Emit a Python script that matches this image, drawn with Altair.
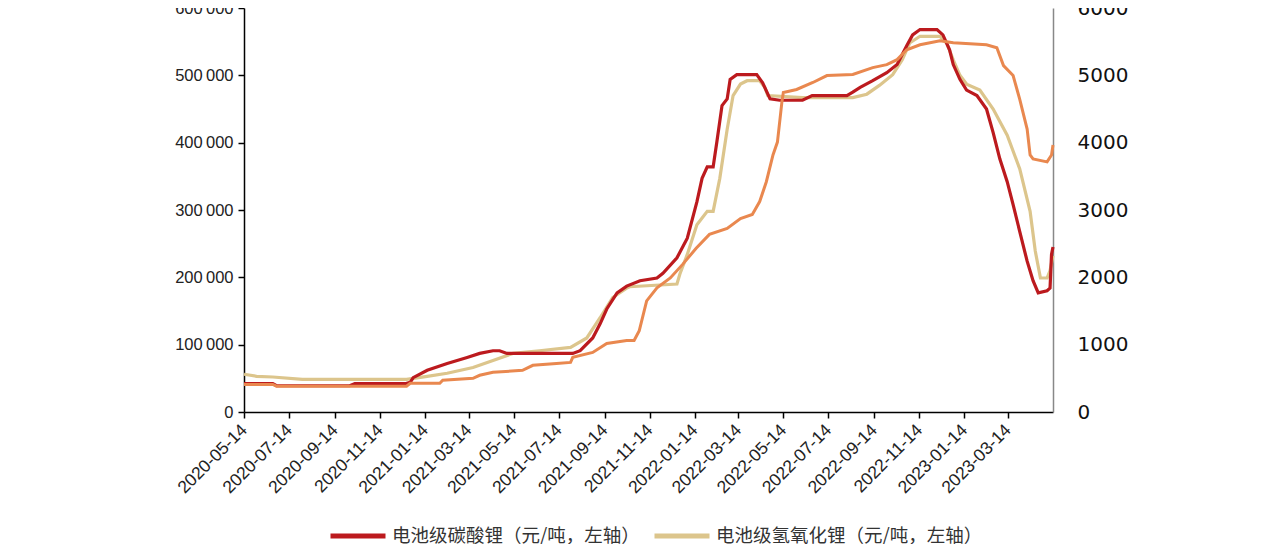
import altair as alt
import pandas as pd

RED_NAME = "电池级碳酸锂（元/吨，左轴）"
TAN_NAME = "电池级氢氧化锂（元/吨，左轴）"
ORG_NAME = "右轴系列"

red_dates = ["2020-05-14","2020-06-22","2020-06-27","2020-10-04","2020-10-11","2020-12-18","2020-12-25","2020-12-29",
             "2021-01-17","2021-02-13","2021-03-12","2021-03-29","2021-04-16","2021-04-25","2021-05-05","2021-08-02",
             "2021-08-12","2021-08-29","2021-09-08","2021-09-17","2021-10-01","2021-10-14","2021-11-01","2021-11-24",
             "2021-12-02","2021-12-21","2022-01-04","2022-01-17","2022-01-24","2022-01-31","2022-02-08","2022-02-13",
             "2022-02-20","2022-02-27","2022-03-03","2022-03-12","2022-04-08","2022-04-16","2022-04-26","2022-05-09",
             "2022-06-09","2022-06-22","2022-08-08","2022-08-16","2022-08-26","2022-09-12","2022-10-01","2022-10-15",
             "2022-10-28","2022-11-05","2022-11-15","2022-12-08","2022-12-16","2022-12-25","2022-12-30","2023-01-08",
             "2023-01-17","2023-01-31","2023-02-13","2023-02-22","2023-03-03","2023-03-13","2023-03-21","2023-03-30",
             "2023-04-09","2023-04-17","2023-04-24","2023-05-06","2023-05-10","2023-05-12","2023-05-14"]
red_vals = [42000,42000,39000,39000,42000,42000,44000,51000,62000,72000,81000,87000,91000,91000,87000,87000,
            91000,110000,131000,153000,177000,187000,195000,199000,206000,229000,258000,312000,347000,364000,
            364000,401000,455000,465000,494000,501000,501000,489000,465000,463000,463000,470000,470000,475000,
            482000,492000,504000,516000,544000,560000,568000,568000,560000,538000,516000,494000,478000,470000,
            450000,415000,376000,342000,308000,268000,224000,195000,177000,180000,184000,234000,245000]

tan_dates = ["2020-05-14","2020-05-31","2020-06-22","2020-08-01","2020-12-20","2021-01-17","2021-02-13","2021-03-20",
             "2021-04-16","2021-05-13","2021-06-18","2021-07-30","2021-08-21","2021-09-08","2021-09-25","2021-10-14",
             "2021-10-18","2021-12-21","2021-12-25","2022-01-04","2022-01-17","2022-01-31","2022-02-08","2022-02-17",
             "2022-02-27","2022-03-07","2022-03-17","2022-03-26","2022-04-12","2022-04-19","2022-04-23","2022-06-09",
             "2022-08-16","2022-09-04","2022-09-21","2022-10-09","2022-10-22","2022-11-01","2022-11-15","2022-12-12",
             "2022-12-21","2022-12-30","2023-01-08","2023-01-17","2023-02-04","2023-02-22","2023-03-13","2023-03-30",
             "2023-04-13","2023-04-20","2023-04-27","2023-05-06","2023-05-10","2023-05-14"]
tan_vals = [56000,53000,52000,48600,48600,53000,57500,66000,76600,87000,91000,96000,110000,140000,170000,184000,
            186000,190000,205000,234000,278000,298000,298000,347000,420000,470000,487000,492000,492000,482000,
            470000,467000,467000,472000,485000,501000,523000,548000,558000,558000,548000,523000,500000,487000,
            478000,450000,411000,361000,298000,239000,199000,199000,210000,232000]

org_dates = ["2020-05-14","2020-06-22","2020-06-27","2020-12-20","2020-12-25","2021-02-03","2021-02-07","2021-03-20",
             "2021-03-29","2021-04-16","2021-05-26","2021-06-09","2021-07-11","2021-07-30","2021-08-02","2021-08-29",
             "2021-09-17","2021-10-14","2021-10-24","2021-10-31","2021-11-10","2021-11-24","2021-12-12","2021-12-29",
             "2022-01-16","2022-02-03","2022-02-27","2022-03-17","2022-04-02","2022-04-12","2022-04-21","2022-04-30",
             "2022-05-06","2022-05-12","2022-05-14","2022-06-01","2022-06-23","2022-07-12","2022-08-16","2022-09-12",
             "2022-10-01","2022-10-15","2022-10-28","2022-11-15","2022-12-12","2022-12-30","2023-02-13","2023-02-27",
             "2023-03-08","2023-03-21","2023-03-30","2023-04-09","2023-04-13","2023-04-17","2023-05-06","2023-05-12",
             "2023-05-14"]
org_vals = [410,410,383,383,427,427,472,501,545,590,619,693,722,737,811,884,1017,1061,1061,1209,1651,1843,1990,
            2196,2432,2638,2727,2874,2933,3125,3420,3817,4009,4599,4746,4790,4894,4997,5012,5115,5159,5233,5380,
            5454,5513,5483,5454,5410,5144,4997,4643,4201,3817,3758,3714,3817,3965]

x_ticks = ["2020-05-14","2020-07-14","2020-09-14","2020-11-14","2021-01-14","2021-03-14","2021-05-14","2021-07-14",
           "2021-09-14","2021-11-14","2022-01-14","2022-03-14","2022-05-14","2022-07-14","2022-09-14","2022-11-14",
           "2023-01-14","2023-03-14"]
x_start = "2020-05-14"
x_end = "2023-05-14"
left_ticks = [0, 100000, 200000, 300000, 400000, 500000, 600000]
right_ticks = [0, 1000, 2000, 3000, 4000, 5000, 6000]

RED = "#BC1A1E"
TAN = "#DCC58C"
ORG = "#E9884F"


def dt(s):
    y, m, d = (int(p) for p in s.split("-"))
    return alt.DateTime(year=y, month=m, date=d, utc=True)


left_df = pd.concat([
    pd.DataFrame({"date": tan_dates, "value": tan_vals, "series": TAN_NAME, "ord": 0}),
    pd.DataFrame({"date": red_dates, "value": red_vals, "series": RED_NAME, "ord": 1}),
])
org_df = pd.DataFrame({"date": org_dates, "value": org_vals, "series": ORG_NAME})

x_enc = alt.X(
    "date:T",
    title=None,
    scale=alt.Scale(type="utc", domain=[dt(x_start), dt(x_end)]),
    axis=alt.Axis(
        values=[dt(s) for s in x_ticks],
        labelExpr="utcFormat(datum.value, '%Y-%m-%d')",
        labelAngle=315, labelAlign="right", labelBaseline="middle",
        labelFont="Liberation Sans", labelFontSize=17.5, labelColor="#222",
        labelPadding=9, tickSize=6, tickColor="#000", domainColor="#000",
        domainWidth=1.5, tickWidth=1.5, grid=False, labelOverlap=False,
    ),
)

left = alt.Chart(left_df).mark_line(strokeWidth=3.2).encode(
    x=x_enc,
    y=alt.Y(
        "value:Q", title=None,
        scale=alt.Scale(domain=[0, 600000], nice=False),
        axis=alt.Axis(
            values=left_ticks, grid=False,
            labelExpr="replace(format(datum.value, ','), ',', '\u2009')",
            labelFont="Liberation Sans", labelFontSize=16.5, labelColor="#222",
            tickSize=6, tickColor="#000", domainColor="#000", domainWidth=1.5,
            tickWidth=1.5, labelPadding=5,
        ),
    ),
    color=alt.Color(
        "series:N",
        scale=alt.Scale(domain=[RED_NAME, TAN_NAME], range=[RED, TAN]),
        legend=alt.Legend(
            title=None, orient="none", legendX=84, legendY=498, direction="horizontal",
            gridAlign="none",
            symbolType="stroke", symbolSize=3025, symbolStrokeWidth=5,
            labelFont="Noto Sans CJK SC", labelFontSize=18.5, labelColor="#333",
            labelOffset=4, columnPadding=4, labelLimit=400,
        ),
    ),
    order=alt.Order("ord:Q"),
    detail="series:N",
)

right = alt.Chart(org_df).mark_line(strokeWidth=3, color=ORG).encode(
    x=x_enc,
    y=alt.Y(
        "value:Q", title=None,
        scale=alt.Scale(domain=[0, 6000], nice=False),
        axis=alt.Axis(
            orient="right", values=right_ticks, format="d", grid=False,
            labelFont="DejaVu Sans", labelFontSize=20, labelColor="#111",
            ticks=False, labelPadding=24, domainColor="#888", domainWidth=1.5,
        ),
    ),
)

chart = alt.layer(left, right).resolve_scale(y="independent").properties(
    width=809, height=404,
    autosize=alt.AutoSizeParams(type="none"),
    padding={"left": 236, "top": 0, "right": 211, "bottom": 140},
    background="white",
).configure_view(stroke=None)

chart.save("out.html", embed_options={"renderer": "svg", "actions": False})
